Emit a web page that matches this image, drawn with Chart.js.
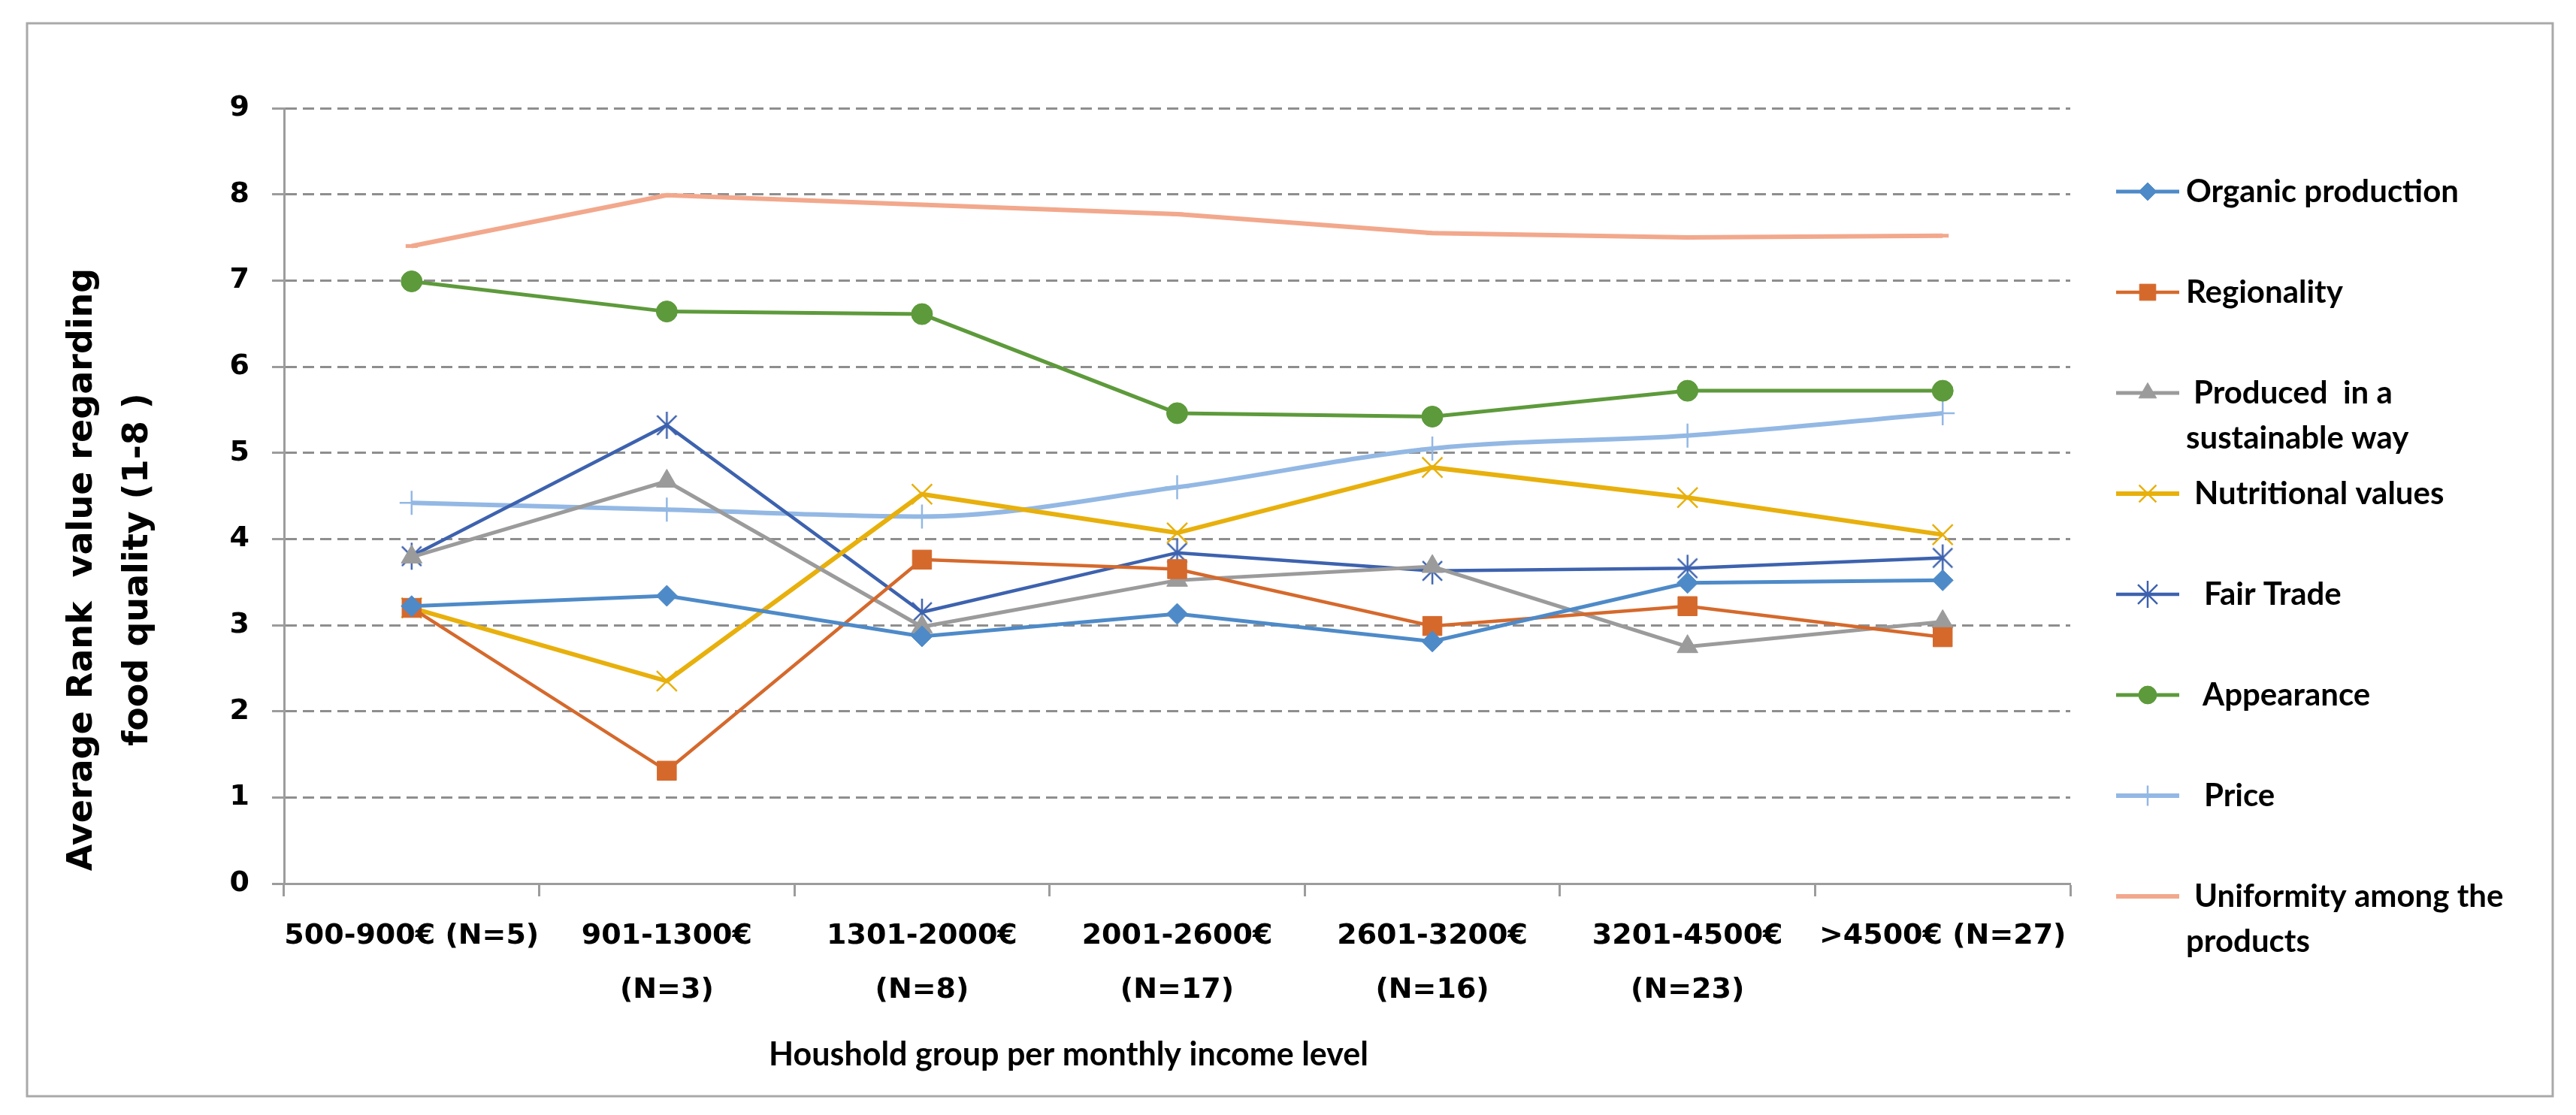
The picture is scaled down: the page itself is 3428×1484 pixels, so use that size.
<!DOCTYPE html>
<html>
<head>
<meta charset="utf-8">
<title>Average rank value regarding food quality</title>
<script src="https://cdn.jsdelivr.net/npm/chart.js@4.4.1/dist/chart.umd.min.js"></script>
<style>
    html, body { margin: 0; padding: 0; background: #ffffff; }
    #wrap { position: relative; width: 3428px; height: 1484px; }
</style>
</head>
<body>
<div id="wrap"><canvas id="rankChart" width="3428" height="1484"></canvas></div>
<script>
// Data
const incomeGroups = [
    "500-900€ (N=5)",
    ["901-1300€", "(N=3)"],
    ["1301-2000€", "(N=8)"],
    ["2001-2600€", "(N=17)"],
    ["2601-3200€", "(N=16)"],
    ["3201-4500€", "(N=23)"],
    ">4500€ (N=27)",
];
const organicProduction = [3.22, 3.34, 2.87, 3.13, 2.81, 3.49, 3.52];
const regionality = [3.2, 1.31, 3.76, 3.65, 2.99, 3.22, 2.86];
const sustainableWay = [3.79, 4.67, 2.98, 3.52, 3.68, 2.75, 3.04];
const nutritionalValues = [3.2, 2.35, 4.52, 4.07, 4.83, 4.48, 4.05];
const fairTrade = [3.8, 5.32, 3.15, 3.84, 3.63, 3.66, 3.78];
const appearance = [6.99, 6.64, 6.61, 5.46, 5.42, 5.72, 5.72];
const price = [4.42, 4.34, 4.26, 4.6, 5.05, 5.2, 5.46];
const uniformity = [7.4, 7.99, 7.88, 7.77, 7.55, 7.5, 7.52];

const seriesNames = [
    "Organic production",
    "Regionality",
    ["Produced  in a", "sustainable way"],
    "Nutritional values",
    "Fair Trade",
    "Appearance",
    "Price",
    ["Uniformity among the", "products"],
];
const yTickValues = [0, 1, 2, 3, 4, 5, 6, 7, 8, 9];
const yTitleLines = ["Average Rank  value regarding", "food quality (1-8 )"];
const xTitle = "Houshold group per monthly income level";

// Excel style "star" marker: an x with a vertical bar
function makeStarMarker(r, color, width) {
    const c = document.createElement("canvas");
    c.width = c.height = 2 * r + 6;
    const g = c.getContext("2d");
    const m = r + 3;
    const d = r * 0.72;
    g.strokeStyle = color;
    g.lineWidth = width;
    g.beginPath();
    g.moveTo(m - d, m - d); g.lineTo(m + d, m + d);
    g.moveTo(m + d, m - d); g.lineTo(m - d, m + d);
    g.moveTo(m, m - r); g.lineTo(m, m + r);
    g.stroke();
    return c;
}

const Y_AXIS_W = 100;
const X_AXIS_H = 200;
const AREA = { left: 378, top: 144, right: 2755, bottom: 1176 };

function series(name, data, color, style) {
    return Object.assign({
        label: [].concat(name).join(" "),
        data: data,
        borderColor: color,
        backgroundColor: color,
        pointBackgroundColor: color,
        pointBorderColor: color,
        pointBorderWidth: 1,
        pointHoverRadius: 0,
        fill: false,
        tension: 0,
    }, style);
}

// Frame, axis titles and the legend drawn next to the plot
const decorations = {
    id: "decorations",
    beforeDraw(chart) {
        const ctx = chart.ctx;
        ctx.save();
        ctx.fillStyle = "#ffffff";
        ctx.fillRect(0, 0, chart.width, chart.height);
        ctx.strokeStyle = "#a9a9a9";
        ctx.lineWidth = 3;
        ctx.strokeRect(36, 31, 3361, 1428);
        ctx.restore();
    },
    afterDraw(chart) {
        const ctx = chart.ctx;
        const area = chart.chartArea;

        // y axis title (two lines, rotated)
        ctx.save();
        ctx.fillStyle = "#000000";
        ctx.font = "bold 46px 'DejaVu Sans'";
        ctx.textAlign = "center";
        ctx.textBaseline = "middle";
        const titleX = [area.left - 268, area.left - 194];
        yTitleLines.forEach((line, i) => {
            ctx.save();
            ctx.translate(titleX[i], 758);
            ctx.rotate(-Math.PI / 2);
            ctx.fillText(line, 0, 0);
            ctx.restore();
        });

        // x axis title
        ctx.font = "bold 43px Lato";
        ctx.fillText(xTitle, area.left + 1044, 1404);
        ctx.restore();

        // legend
        const indent = [0, 0, 10, 11, 24, 22, 24, 11];
        const lineX1 = 2816, lineX2 = 2900, textX = 2909;
        chart.data.datasets.forEach((ds, i) => {
            const y = 255 + i * 134;
            ctx.save();
            ctx.strokeStyle = ds.borderColor;
            ctx.lineWidth = ds.borderWidth;
            ctx.beginPath();
            ctx.moveTo(lineX1, y);
            ctx.lineTo(lineX2, y);
            ctx.stroke();
            if (ds.pointRadius > 0 && Chart.helpers && Chart.helpers.drawPoint) {
                ctx.fillStyle = ds.pointBackgroundColor;
                ctx.strokeStyle = ds.pointBorderColor;
                ctx.lineWidth = ds.pointBorderWidth;
                Chart.helpers.drawPoint(ctx, {
                    pointStyle: ds.pointStyle,
                    rotation: 0,
                    radius: ds.pointRadius * 0.85,
                    borderWidth: ds.pointBorderWidth,
                }, (lineX1 + lineX2) / 2, y);
            }
            ctx.fillStyle = "#000000";
            ctx.font = "bold 42px Lato";
            ctx.textAlign = "left";
            ctx.textBaseline = "middle";
            [].concat(seriesNames[i]).forEach((line, k) => {
                ctx.fillText(line, textX + (k === 0 ? indent[i] : 0), y + k * 60);
            });
            ctx.restore();
        });
    },
};

function buildChart() {
    const ctx = document.getElementById("rankChart").getContext("2d");
    new Chart(ctx, {
        type: "line",
        data: {
            labels: incomeGroups,
            datasets: [
                series(seriesNames[0], organicProduction, "#4e8ac8", {
                    borderWidth: 5, pointStyle: "rectRot", pointRadius: 14,
                }),
                series(seriesNames[1], regionality, "#d5692c", {
                    borderWidth: 4.5, pointStyle: "rect", pointRadius: 18,
                }),
                series(seriesNames[2], sustainableWay, "#9b9b9b", {
                    borderWidth: 5, pointStyle: "triangle", pointRadius: 16,
                }),
                series(seriesNames[3], nutritionalValues, "#e8b00c", {
                    borderWidth: 6, pointStyle: "crossRot", pointRadius: 19, pointBorderWidth: 2.5,
                }),
                series(seriesNames[4], fairTrade, "#3d62ae", {
                    borderWidth: 4.5, pointStyle: makeStarMarker(18, "#3d62ae", 2.5), pointRadius: 18, pointBorderWidth: 2.5,
                }),
                series(seriesNames[5], appearance, "#5d9a3b", {
                    borderWidth: 5, pointStyle: "circle", pointRadius: 14,
                }),
                series(seriesNames[6], price, "#93b8e4", {
                    borderWidth: 6, pointStyle: "cross", pointRadius: 16, pointBorderWidth: 2.5,
                    cubicInterpolationMode: "monotone", tension: 0.3,
                }),
                series(seriesNames[7], uniformity, "#f2a88c", {
                    borderWidth: 6, pointStyle: "line", pointRadius: 8, pointBorderWidth: 5,
                }),
            ],
        },
        options: {
            responsive: false,
            devicePixelRatio: 1,
            animation: false,
            events: [],
            layout: {
                padding: {
                    left: AREA.left - Y_AXIS_W,
                    top: AREA.top,
                    right: 3428 - AREA.right,
                    bottom: 1484 - AREA.bottom - X_AXIS_H,
                },
            },
            plugins: {
                legend: { display: false },
                tooltip: { enabled: false },
            },
            scales: {
                x: {
                    type: "category",
                    offset: true,
                    grid: {
                        display: true,
                        offset: true,
                        drawOnChartArea: false,
                        drawTicks: true,
                        tickLength: 17,
                        tickColor: "#9c9c9c",
                        tickWidth: 3,
                    },
                    border: { display: true, color: "#9c9c9c", width: 3 },
                    ticks: {
                        autoSkip: false,
                        maxRotation: 0,
                        minRotation: 0,
                        padding: 17,
                        color: "#000000",
                        font: { family: "'DejaVu Sans'", size: 38, weight: "bold", lineHeight: 1.9 },
                    },
                    afterFit(scale) { scale.height = X_AXIS_H; },
                },
                y: {
                    min: 0,
                    max: 9,
                    afterBuildTicks(scale) {
                        scale.ticks = yTickValues.map((v) => ({ value: v }));
                    },
                    grid: {
                        color: "#8e8e8e",
                        lineWidth: 3,
                        drawTicks: true,
                        tickLength: 16,
                        tickColor: "#9c9c9c",
                        tickWidth: 3,
                        tickBorderDash: [],
                    },
                    border: { display: true, color: "#9c9c9c", width: 3, dash: [15, 8] },
                    ticks: {
                        padding: 30,
                        color: "#000000",
                        font: { family: "'DejaVu Sans'", size: 38, weight: "bold" },
                    },
                    afterFit(scale) { scale.width = Y_AXIS_W; },
                },
            },
        },
        plugins: [decorations],
    });
}

Promise.all([
    document.fonts.load("bold 42px Lato"),
    document.fonts.load("bold 38px 'DejaVu Sans'"),
    document.fonts.load("bold 46px 'DejaVu Sans'"),
]).catch(() => null).then(buildChart);
</script>
</body>
</html>
